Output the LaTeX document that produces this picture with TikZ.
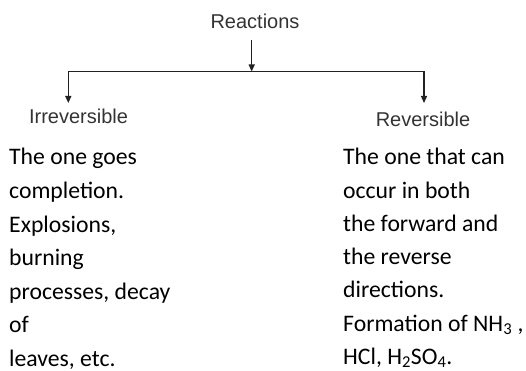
\documentclass[tikz,border=0pt]{standalone}
\usepackage{fontspec}
\setmainfont{Carlito}
\newfontfamily\headfont{Liberation Sans}
\usetikzlibrary{arrows.meta}
\definecolor{linegray}{HTML}{222222}
\definecolor{headgray}{HTML}{333333}
\tikzset{
  head/.style={font=\headfont\fontsize{20}{24}\selectfont, text=headgray, inner sep=0pt, anchor=base},
  body/.style={font=\fontsize{23.7}{28}\selectfont, text=black, inner sep=0pt, anchor=base west},
  conn/.style={draw=linegray, line width=1.3pt},
  arr/.style={conn, -{Triangle[length=7pt,width=6pt]}}
}
\begin{document}
\begin{tikzpicture}[x=1pt,y=-1pt]
\useasboundingbox (0,0) rectangle (526,371);
% headers
\node[head] (react) at (255,29) {Reactions};
\node[head] (irr) at (78.5,124) {Irreversible};
\node[head] (rev) at (423,127) {Reversible};
% junction coordinates
\coordinate (jc) at (251.7,71.5);
\coordinate (jl) at (68.3,71.5);
\coordinate (jr) at (424,71.5);
\coordinate (tl) at (68.3,103);
\coordinate (tr) at (424,103);
\draw[arr] (251.7,40) -- (jc);
\draw[conn] (jl) -- (jr);
\draw[arr] (jl) -- (tl);
\draw[arr] (jr) -- (tr);
% left column
\foreach \t [count=\i from 0] in {The one goes, completion., {Explosions,}, burning, {processes, decay}, of, {leaves, etc.}}
  \node[body] (l\i) at (9,165+33.5*\i) {\t};
% right column
\foreach \t [count=\i from 0] in {The one that can, occur in both, the forward and, the reverse, directions., {Formation of NH\textsubscript{3} ,}, {HCl, H\textsubscript{2}SO\textsubscript{4}.}}
  \node[body] (r\i) at (343,165+33.2*\i) {\t};
\end{tikzpicture}
\end{document}
